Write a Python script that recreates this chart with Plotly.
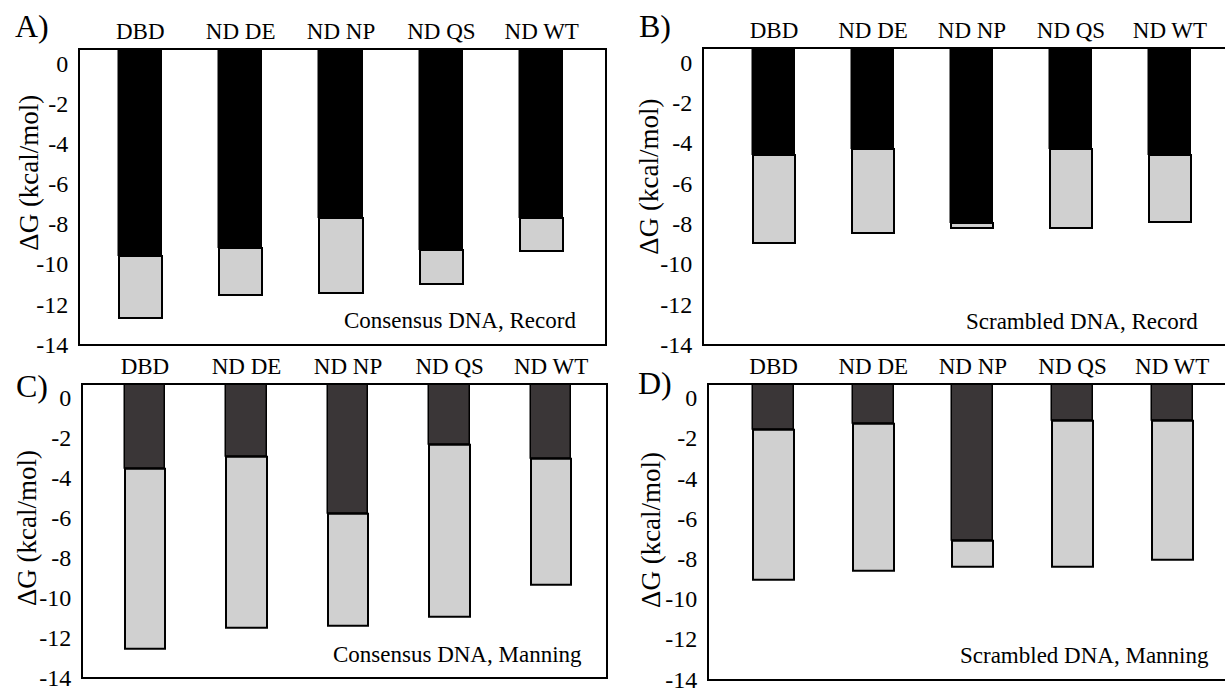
import plotly.graph_objects as go

# ---------------- data ----------------
categories = ["DBD", "ND DE", "ND NP", "ND QS", "ND WT"]
y_tick_vals = [0, -2, -4, -6, -8, -10, -12, -14]
y_tick_text = ["0", "-2", "-4", "-6", "-8", "-10", "-12", "-14"]

# A) Consensus DNA, Record
a_dark = [-9.6, -9.2, -7.7, -9.3, -7.7]
a_total = [-12.7, -11.55, -11.45, -11.0, -9.35]
# B) Scrambled DNA, Record
b_dark = [-4.6, -4.3, -8.0, -4.3, -4.6]
b_total = [-8.95, -8.45, -8.25, -8.25, -7.95]
# C) Consensus DNA, Manning
c_dark = [-3.55, -2.95, -5.8, -2.35, -3.05]
c_total = [-12.55, -11.5, -11.4, -10.95, -9.35]
# D) Scrambled DNA, Manning
d_dark = [-1.6, -1.3, -7.1, -1.15, -1.15]
d_total = [-9.05, -8.6, -8.4, -8.4, -8.05]

# ---------------- style / layout ----------------
W, H = 1225, 700
FONT = "Liberation Serif"
Y_TOP = 0.65
LIGHT = "#d0d0d0"

panels = [
    dict(dark=a_dark, total=a_total, color="#000000", letter="A)", note="Consensus DNA, Record",
         xd=(80, 605), yd=(51, 351), xr=(-0.60, 4.63), bw=0.43, mirror_y=True,
         letter_pos=(32, 27), title_pos=(29, 176), note_pos=(578, 327)),
    dict(dark=b_dark, total=b_total, color="#000000", letter="B)", note="Scrambled DNA, Record",
         xd=(704, 1225), yd=(50, 351), xr=(-0.707, 4.556), bw=0.424, mirror_y=False,
         letter_pos=(655, 27), title_pos=(649, 180), note_pos=(1200, 328)),
    dict(dark=c_dark, total=c_total, color="#3a3637", letter="C)", note="Consensus DNA, Manning",
         xd=(83, 606), yd=(392, 690), xr=(-0.61, 4.54), bw=0.40, mirror_y=True,
         letter_pos=(32, 393), title_pos=(27, 538), note_pos=(584, 667)),
    dict(dark=d_dark, total=d_total, color="#3a3637", letter="D)", note="Scrambled DNA, Manning",
         xd=(709, 1225), yd=(392, 692), xr=(-0.648, 4.53), bw=0.41, mirror_y=False,
         letter_pos=(655, 390), title_pos=(651, 540), note_pos=(1211, 668)),
]

fig = go.Figure()
annotations = []
layout = {}

for i, p in enumerate(panels):
    n = "" if i == 0 else str(i + 1)
    xa, ya = "x" + n, "y" + n
    dark_len = [d - Y_TOP for d in p["dark"]]
    light_len = [t - d for t, d in zip(p["total"], p["dark"])]
    fig.add_trace(go.Bar(
        x=categories, y=dark_len, base=[Y_TOP] * len(categories), width=p["bw"],
        marker=dict(color=p["color"], line=dict(color="#000000", width=1.5)),
        xaxis=xa, yaxis=ya, showlegend=False, hoverinfo="skip"))
    fig.add_trace(go.Bar(
        x=categories, y=light_len, base=p["dark"], width=p["bw"],
        marker=dict(color=LIGHT, line=dict(color="#000000", width=2)),
        xaxis=xa, yaxis=ya, showlegend=False, hoverinfo="skip"))

    layout["xaxis" + n] = dict(
        domain=[p["xd"][0] / W, p["xd"][1] / W], anchor=ya, side="top",
        range=list(p["xr"]), type="category",
        showline=True, mirror=True, linecolor="#000000", linewidth=2,
        ticks="", showgrid=False, zeroline=False,
        tickfont=dict(family=FONT, size=23, color="#000000"))
    layout["yaxis" + n] = dict(
        domain=[1 - p["yd"][1] / H, 1 - p["yd"][0] / H], anchor=xa,
        range=[-14, Y_TOP], tickvals=y_tick_vals, ticktext=y_tick_text,
        showline=True, mirror=p["mirror_y"], linecolor="#000000", linewidth=2,
        ticks="", showgrid=False, zeroline=False, ticklabelstandoff=5,
        tickfont=dict(family=FONT, size=24, color="#000000"))

    annotations.append(dict(
        text=p["letter"], xref="paper", yref="paper",
        x=p["letter_pos"][0] / W, y=1 - p["letter_pos"][1] / H,
        xanchor="center", yanchor="middle", showarrow=False,
        font=dict(family=FONT, size=32, color="#000000")))
    annotations.append(dict(
        text="ΔG (kcal/mol)", xref="paper", yref="paper", textangle=-90,
        x=p["title_pos"][0] / W, y=1 - p["title_pos"][1] / H,
        xanchor="center", yanchor="middle", showarrow=False,
        font=dict(family=FONT, size=27, color="#000000")))
    annotations.append(dict(
        text=p["note"], xref="paper", yref="paper",
        x=p["note_pos"][0] / W, y=1 - p["note_pos"][1] / H,
        xanchor="right", yanchor="middle", showarrow=False,
        font=dict(family=FONT, size=23, color="#000000")))

fig.update_layout(
    width=W, height=H, margin=dict(l=0, r=0, t=0, b=0),
    paper_bgcolor="white", plot_bgcolor="white",
    font=dict(family=FONT, color="#000000"),
    barmode="overlay", bargap=0,
    annotations=annotations, **layout)

fig.write_html("out.html")
